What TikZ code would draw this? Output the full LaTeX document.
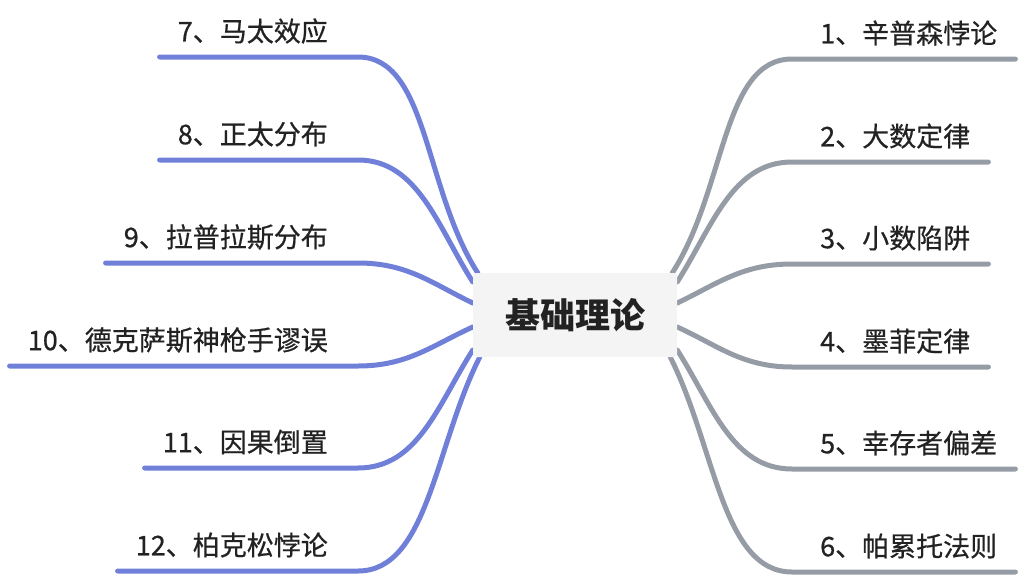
\documentclass[tikz,border=0pt]{standalone}
\usepackage{fontspec}
\setmainfont{Noto Sans CJK SC}
\newfontfamily\labelfont{Noto Sans CJK SC}[FakeBold=0.6]
\usetikzlibrary{calc, backgrounds}

\definecolor{branchblue}{RGB}{112,128,216}
\definecolor{branchgray}{RGB}{150,156,166}
\definecolor{rootfill}{RGB}{244,244,245}
\definecolor{labeltext}{RGB}{34,34,34}

\tikzset{
  leftline/.style={draw=branchblue, line width=5pt, line cap=round},
  rightline/.style={draw=branchgray, line width=5pt, line cap=round},
  leftlabel/.style={anchor=east, inner sep=0pt, text=labeltext, font=\labelfont\fontsize{27}{32}\selectfont},
  rightlabel/.style={anchor=west, inner sep=0pt, text=labeltext, font=\labelfont\fontsize{27}{32}\selectfont},
  rootbox/.style={fill=rootfill, rounded corners=3pt, minimum width=204pt, minimum height=84pt,
    text=labeltext, font=\fontsize{35}{40}\selectfont\bfseries}
}

\begin{document}
\begin{tikzpicture}[x=1pt, y=-1pt]

  \useasboundingbox (0,0) rectangle (1028,576);

  % Root
  \node[rootbox] (root) at (575,315) {基础理论};

  % Right labels
  \node[rightlabel] (lab1) at (820,33) {1、辛普森悖论};
  \node[rightlabel] (lab2) at (820,136) {2、大数定律};
  \node[rightlabel] (lab3) at (820,238) {3、小数陷阱};
  \node[rightlabel] (lab4) at (820,341) {4、墨菲定律};
  \node[rightlabel] (lab5) at (820,443) {5、幸存者偏差};
  \node[rightlabel] (lab6) at (820,546) {6、帕累托法则};

  % Left labels
  \node[leftlabel] (lab7) at (328,31) {7、马太效应};
  \node[leftlabel] (lab8) at (328,134) {8、正太分布};
  \node[leftlabel] (lab9) at (328,237) {9、拉普拉斯分布};
  \node[leftlabel] (lab10) at (328,340) {10、德克萨斯神枪手谬误};
  \node[leftlabel] (lab11) at (328,442) {11、因果倒置};
  \node[leftlabel] (lab12) at (328,545) {12、柏克松悖论};

  \begin{scope}[on background layer]
    % Right branches
    \draw[rightline] ($(lab1.east)+(18,26)$) -- ($(lab1.west)+(-28,26)$)
      .. controls +(-70,0) and +(54,-84) .. ($(root.east)+(-5,-42)$);
    \draw[rightline] ($(lab2.east)+(18,26)$) -- ($(lab2.west)+(-28,26)$)
      .. controls +(-60,0) and +(35,-55) .. ($(root.east)+(0,-33)$);
    \draw[rightline] ($(lab3.east)+(18,26)$) -- ($(lab3.west)+(-28,26)$)
      .. controls +(-50,0) and +(40,-19) .. ($(root.east)+(0,-12)$);
    \draw[rightline] ($(lab4.east)+(18,26)$) -- ($(lab4.west)+(-28,26)$)
      .. controls +(-50,0) and +(40,18) .. ($(root.east)+(0,12)$);
    \draw[rightline] ($(lab5.east)+(18,26)$) -- ($(lab5.west)+(-28,26)$)
      .. controls +(-60,0) and +(35,55) .. ($(root.east)+(0,35)$);
    \draw[rightline] ($(lab6.east)+(18,26)$) -- ($(lab6.west)+(-28,26)$)
      .. controls +(-70,0) and +(45,89) .. ($(root.east)+(-7,42)$);

    % Left branches
    \draw[leftline] ($(lab7.west)+(-18,26)$) -- ($(lab7.east)+(30,26)$)
      .. controls +(70,0) and +(-54,-84) .. ($(root.west)+(5,-42)$);
    \draw[leftline] ($(lab8.west)+(-18,26)$) -- ($(lab8.east)+(30,26)$)
      .. controls +(60,0) and +(-35,-55) .. ($(root.west)+(0,-33)$);
    \draw[leftline] ($(lab9.west)+(-18,26)$) -- ($(lab9.east)+(30,26)$)
      .. controls +(50,0) and +(-40,-19) .. ($(root.west)+(0,-12)$);
    \draw[leftline] ($(lab10.west)+(-18,26)$) -- ($(lab10.east)+(30,26)$)
      .. controls +(50,0) and +(-40,18) .. ($(root.west)+(0,12)$);
    \draw[leftline] ($(lab11.west)+(-18,26)$) -- ($(lab11.east)+(30,26)$)
      .. controls +(60,0) and +(-35,55) .. ($(root.west)+(0,35)$);
    \draw[leftline] ($(lab12.west)+(-18,26)$) -- ($(lab12.east)+(30,26)$)
      .. controls +(70,0) and +(-45,89) .. ($(root.west)+(7,42)$);
  \end{scope}

\end{tikzpicture}
\end{document}
